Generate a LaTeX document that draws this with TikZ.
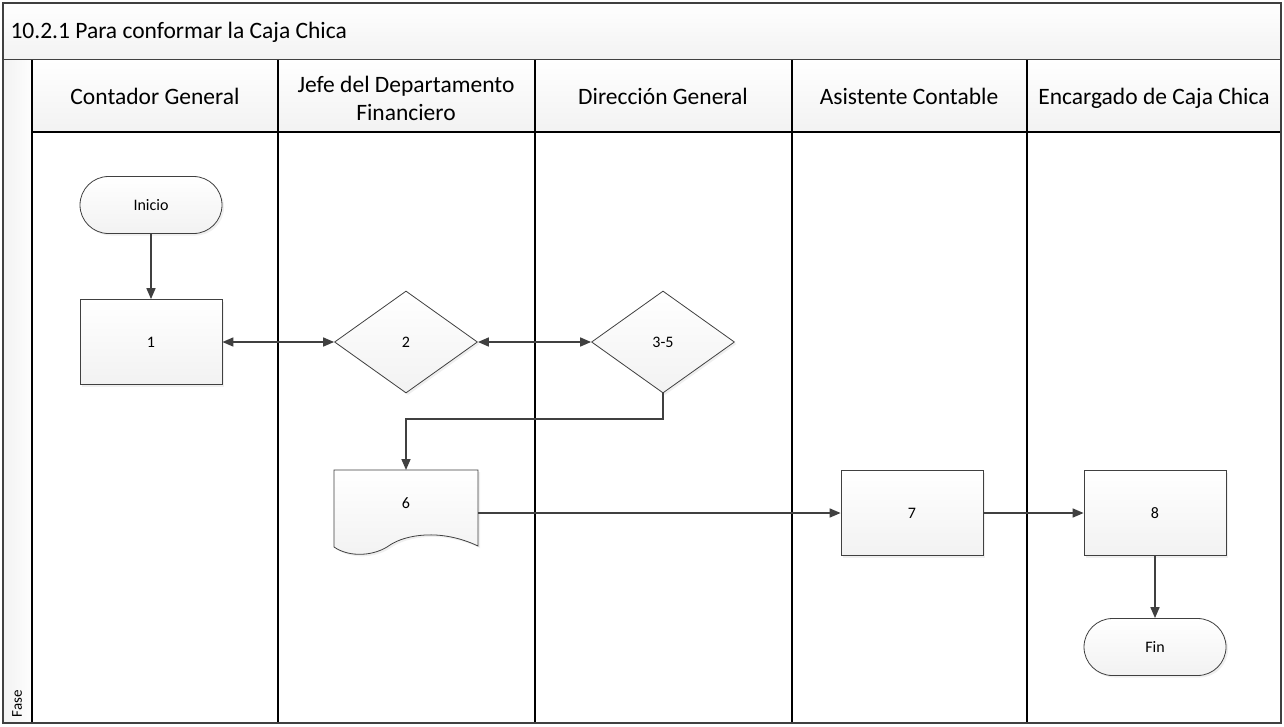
\documentclass[tikz,border=0pt]{standalone}
\usepackage{fontspec}
\setmainfont{Carlito}
\usetikzlibrary{shapes.geometric,shapes.misc,arrows.meta,shadows}
\definecolor{lineg}{HTML}{404040}
\definecolor{hdr}{HTML}{F2F2F2}
\tikzset{
  lane/.style={draw=black, line width=1.4pt},
  hdrtext/.style={font=\fontsize{23.5}{28}\selectfont, align=center},
  hdrone/.style={hdrtext, text height=16pt, text depth=5pt},
  shp/.style={draw=lineg, line width=0.8pt, top color=white, bottom color=hdr,
              drop shadow={shadow xshift=2pt, shadow yshift=-2pt, fill=black!12},
              font=\fontsize{16}{19}\selectfont},
  procbox/.style={shp, rectangle, minimum width=142pt, minimum height=85pt, inner sep=0pt},
  termbox/.style={shp, rounded rectangle, minimum width=142pt, minimum height=57pt, inner sep=0pt},
  decbox/.style={shp, diamond, minimum width=143pt, minimum height=102pt, inner sep=0pt, aspect=1.4},
  conn/.style={draw=lineg, line width=1.6pt, -{Triangle[length=11pt,width=9pt]}},
  biconn/.style={draw=lineg, line width=1.6pt, {Triangle[length=11pt,width=9pt]}-{Triangle[length=11pt,width=9pt]}}
}
\begin{document}
\begin{tikzpicture}[x=1pt,y=-1pt]
\useasboundingbox (0,0) rectangle (1284,726);
\fill[white] (0,0) rectangle (1284,726);

% title bar
\shade[top color=white, bottom color=hdr] (3,3) rectangle (1281,60);
\draw[lineg, line width=1.2pt] (3,3) rectangle (1281,60);
\node[anchor=west, font=\fontsize{23.5}{28}\selectfont] (title) at (7,32) {10.2.1 Para conformar la Caja Chica};

% phase column
\shade[left color=hdr, right color=white!90!hdr] (3,60) rectangle (32,723);
\node[rotate=90, anchor=west, font=\fontsize{15}{18}\selectfont] (fase) at (17,721) {Fase};

% header row
\shade[top color=white, bottom color=hdr] (32,60) rectangle (1281,132);

% lane lines
\draw[lane] (32,60) -- (32,723);
\foreach \x in {278,535,792,1027} \draw[lane] (\x,60) -- (\x,723);
\draw[lane] (32,132) -- (1281,132);
\draw[lineg, line width=1.2pt] (3,60) -- (3,723) -- (1281,723) -- (1281,60);

% lane headers
\node[hdrone] (h1) at (155,99) {Contador General};
\node[hdrtext] (h2) at (406,98) {Jefe del Departamento\\Financiero};
\node[hdrone] (h3) at (663,99) {Dirección General};
\node[hdrone] (h4) at (909,99) {Asistente Contable};
\node[hdrone] (h5) at (1154,99) {Encargado de Caja Chica};

% steps
\node[termbox] (ini) at (151,205) {Inicio};
\node[procbox] (s1) at (151,342) {1};
\node[decbox] (s2) at (406,342) {2};
\node[decbox] (s35) at (663,342) {3-5};
\node[procbox] (s7) at (912,513) {7};
\node[procbox] (s8) at (1155,513) {8};
\node[termbox] (fin) at (1155,647) {Fin};

% document shape for step 6
\path[shp] (334,470) -- (478,470) -- (478,546)
  .. controls (440,528) and (405,535) .. (390,545)
  .. controls (375,556) and (350,558) .. (334,547) -- cycle;
\node[font=\fontsize{16}{19}\selectfont] (s6) at (406,503) {6};
\coordinate (s6top) at (406,470);
\coordinate (s6right) at (478,513);
\coordinate (bend) at (406,419);

% connectors
\draw[conn] (ini) -- (s1);
\draw[biconn] (s1.east) -- (s2.west);
\draw[biconn] (s2.east) -- (s35.west);
\draw[conn] (s35.south) |- (bend) -- (s6top);
\draw[conn] (s6right) -- (s7.west);
\draw[conn] (s7.east) -- (s8.west);
\draw[conn] (s8.south) -- (fin.north);
\end{tikzpicture}
\end{document}
